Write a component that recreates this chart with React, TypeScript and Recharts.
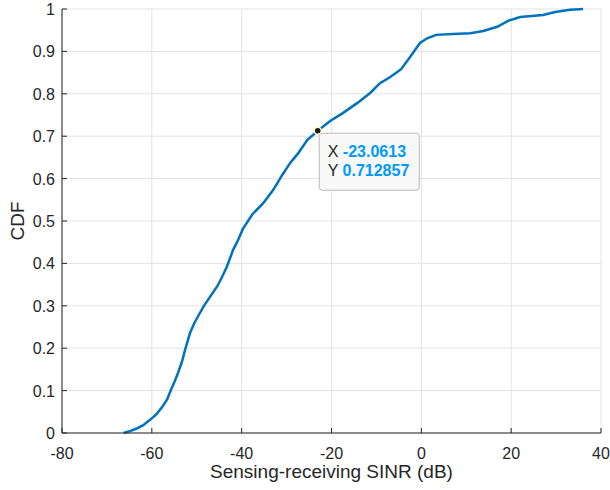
import { LineChart, Line, XAxis, YAxis, CartesianGrid, ReferenceDot } from 'recharts'

const FONT = '"Liberation Sans", Arial, Helvetica, sans-serif'
const AXIS = '#262626'
const BLUE = '#0072BD'
const GRID = '#e3e3e3'
const TICK = 5

const sinrDb = [
  -66.3, -65.0, -63.5, -62.0, -60.4, -59.0, -57.7, -56.6, -55.8, -54.9,
  -54.2, -53.3, -52.6, -51.5, -50.5, -49.3, -48.4, -47.5, -45.5, -44.5,
  -43.3, -41.9, -40.8, -39.7, -37.6, -35.2, -33.0, -31.0, -29.2, -27.4,
  -25.4, -23.06, -20.3, -17.4, -14.3, -11.4, -9.2, -7.0, -4.5, -2.5,
  -0.3, 1.3, 3.3, 7.0, 10.9, 13.8, 16.9, 19.3, 22.0, 27.1,
  29.8, 33.1, 36.0,
]
const cdfVals = [
  0, 0.004, 0.01, 0.018, 0.031, 0.044, 0.061, 0.079, 0.1, 0.122,
  0.141, 0.168, 0.196, 0.236, 0.26, 0.283, 0.3, 0.314, 0.345, 0.365,
  0.392, 0.432, 0.455, 0.482, 0.516, 0.542, 0.573, 0.608, 0.637, 0.66,
  0.691, 0.7129, 0.736, 0.755, 0.778, 0.802, 0.825, 0.839, 0.858, 0.887,
  0.92, 0.931, 0.939, 0.941, 0.943, 0.948, 0.958, 0.972, 0.981, 0.986,
  0.993, 0.998, 1.0,
]
const xTicks = [-80, -60, -40, -20, 0, 20, 40]
const yTicks = [0, 0.1, 0.2, 0.3, 0.4, 0.5, 0.6, 0.7, 0.8, 0.9, 1]
const cursorX = -23.0613
const cursorY = 0.712857

const data = sinrDb.map((x, i) => ({ x, y: cdfVals[i] }))

function BottomTick({ x, y, payload }: any) {
  return (
    <g>
      <line x1={x} y1={y} x2={x} y2={y - TICK} stroke={AXIS} />
      <text x={x} y={y + 26} textAnchor="middle" fontSize={16} fill={AXIS} fontFamily={FONT}>
        {payload.value}
      </text>
    </g>
  )
}

function LeftTick({ x, y, payload }: any) {
  return (
    <g>
      <line x1={x} y1={y} x2={x + TICK} y2={y} stroke={AXIS} />
      <text x={x - 7} y={y + 6} textAnchor="end" fontSize={16} fill={AXIS} fontFamily={FONT}>
        {payload.value}
      </text>
    </g>
  )
}

const TopTick = ({ x, y }: any) => <line x1={x} y1={y} x2={x} y2={y + TICK} stroke={AXIS} />
const RightTick = ({ x, y }: any) => <line x1={x} y1={y} x2={x - TICK} y2={y} stroke={AXIS} />

function XLabel({ viewBox }: any) {
  const { x, y, width, height } = viewBox
  return (
    <text x={x + width / 2} y={y + height - 12} textAnchor="middle" fontSize={19} fill={AXIS} fontFamily={FONT}>
      Sensing-receiving SINR (dB)
    </text>
  )
}

function YLabel({ viewBox }: any) {
  const { y, height } = viewBox
  const cy = y + height / 2
  return (
    <text x={24} y={cy} transform={`rotate(-90, 24, ${cy})`} textAnchor="middle" fontSize={19}
          fill={AXIS} fontFamily={FONT}>
      CDF
    </text>
  )
}

// MATLAB-style data tip
function DataTip({ cx, cy }: any) {
  return (
    <g fontFamily={FONT} fontSize={16}>
      <rect x={cx + 1.5} y={cy + 2.5} width={100} height={57} rx={3} fill="#f9f9f9" stroke="#b9b9b9" />
      <text x={cx + 10} y={cy + 26} fill={AXIS}>
        X <tspan fill="#0099FF" fontWeight="bold">{cursorX.toFixed(4)}</tspan>
      </text>
      <text x={cx + 10} y={cy + 45} fill={AXIS}>
        Y <tspan fill="#0099FF" fontWeight="bold">{cursorY.toFixed(6)}</tspan>
      </text>
      <circle cx={cx} cy={cy} r={3.5} fill="#1a1a1a" stroke="#fffcc8" strokeWidth={1.5} />
    </g>
  )
}

export default function App() {
  return (
    <div style={{ position: 'absolute', left: 0, top: 0, width: 610, height: 490, background: '#fff' }}>
      <LineChart width={610} height={490} data={data} margin={{ top: 9, right: 9, left: 0, bottom: 0 }}>
        <CartesianGrid stroke={GRID} />
        <XAxis dataKey="x" type="number" domain={[-80, 40]} ticks={xTicks} height={57}
               tickLine={false} tickSize={0} tickMargin={0} stroke={AXIS}
               tick={<BottomTick />} label={<XLabel />} />
        <XAxis xAxisId="top" dataKey="x" type="number" domain={[-80, 40]} ticks={xTicks} orientation="top"
               height={0} tickLine={false} tickSize={0} tickMargin={0} stroke={AXIS} tick={<TopTick />} />
        <YAxis type="number" domain={[0, 1]} ticks={yTicks} width={62}
               tickLine={false} tickSize={0} tickMargin={0} stroke={AXIS}
               tick={<LeftTick />} label={<YLabel />} />
        <YAxis yAxisId="right" type="number" domain={[0, 1]} ticks={yTicks} orientation="right" width={0}
               tickLine={false} tickSize={0} tickMargin={0} stroke={AXIS} tick={<RightTick />} />
        <Line dataKey="y" type="linear" stroke={BLUE} strokeWidth={2.5} dot={false} isAnimationActive={false} />
        <ReferenceDot x={cursorX} y={cursorY} r={4} shape={<DataTip />} />
      </LineChart>
    </div>
  )
}
